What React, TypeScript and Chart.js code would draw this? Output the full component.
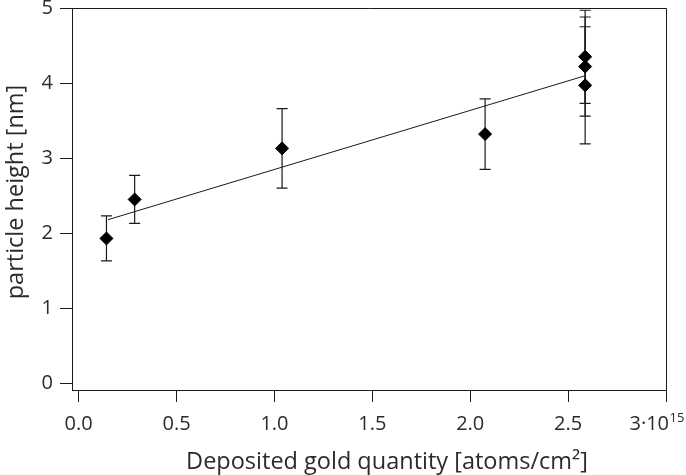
import { useEffect, useRef } from "react";
import { Chart, registerables } from "chart.js";

Chart.register(...registerables);

// Deposited gold quantity in units of 10^15 atoms/cm²
const goldQuantity = [0.142, 0.286, 1.039, 2.076, 2.587, 2.587, 2.587];
// Mean particle height [nm] and its standard deviation
const particleHeight = [1.93, 2.45, 3.13, 3.32, 4.35, 4.22, 3.97];
const heightError = [0.3, 0.32, 0.53, 0.47, 0.62, 0.66, 0.78];
// Linear fit through the measurements
const fitQuantity = [0.15, 2.59];
const fitHeight = [2.18, 4.1];

const xTickValues = [0, 0.5, 1, 1.5, 2, 2.5, 3];
const yTickValues = [0, 1, 2, 3, 4, 5];
const xTitle = "Deposited gold quantity [atoms/cm²]";
const yTitle = "particle height [nm]";
const xExponentBase = "3·10";
const xExponent = "15";

const FONT = "'Open Sans', 'DejaVu Sans', sans-serif";
const TEXT = "#2b2b2b";
const INK = "#1a1a1a";
const TICK_SIZE = 20;
const TITLE_SIZE = 23.5;

const errorBarPlugin = {
  id: "errorBars",
  beforeDatasetsDraw(chart: any) {
    const { ctx } = chart;
    const xs = chart.scales.x;
    const ys = chart.scales.y;
    ctx.save();
    ctx.strokeStyle = INK;
    ctx.lineWidth = 1.2;
    goldQuantity.forEach((q, i) => {
      const px = xs.getPixelForValue(q);
      const top = ys.getPixelForValue(particleHeight[i] + heightError[i]);
      const bot = ys.getPixelForValue(particleHeight[i] - heightError[i]);
      ctx.beginPath();
      ctx.moveTo(px, top);
      ctx.lineTo(px, bot);
      ctx.moveTo(px - 5.5, top);
      ctx.lineTo(px + 5.5, top);
      ctx.moveTo(px - 5.5, bot);
      ctx.lineTo(px + 5.5, bot);
      ctx.stroke();
    });
    ctx.restore();
  },
};

const framePlugin = {
  id: "frameAndTitles",
  afterDraw(chart: any) {
    const { ctx, chartArea } = chart;
    const xs = chart.scales.x;
    ctx.save();
    // top and right edges of the plot frame
    ctx.strokeStyle = INK;
    ctx.lineWidth = 1;
    ctx.beginPath();
    ctx.moveTo(chartArea.left, chartArea.top + 0.5);
    ctx.lineTo(chartArea.right + 0.5, chartArea.top + 0.5);
    ctx.lineTo(chartArea.right + 0.5, chartArea.bottom);
    ctx.stroke();

    // last x tick label with its exponent
    const px = xs.getPixelForValue(3);
    ctx.fillStyle = TEXT;
    ctx.textBaseline = "alphabetic";
    ctx.font = `${TICK_SIZE}px ${FONT}`;
    ctx.textAlign = "right";
    ctx.fillText(xExponentBase, px + 3, 430);
    ctx.font = `13px ${FONT}`;
    ctx.textAlign = "left";
    ctx.fillText(xExponent, px + 3.5, 422);

    // axis titles
    ctx.font = `${TITLE_SIZE}px ${FONT}`;
    ctx.textAlign = "center";
    ctx.textBaseline = "middle";
    ctx.fillText(xTitle, 387, 462);
    ctx.translate(16, 192);
    ctx.rotate(-Math.PI / 2);
    ctx.fillText(yTitle, 0, 0);
    ctx.restore();
  },
};

export default function App() {
  const canvasRef = useRef<HTMLCanvasElement | null>(null);

  useEffect(() => {
    const canvas = canvasRef.current;
    if (!canvas) return;
    const chart = new Chart(canvas, {
      type: "scatter",
      data: {
        datasets: [
          {
            type: "line",
            label: "fit",
            data: fitQuantity.map((x, i) => ({ x, y: fitHeight[i] })),
            borderColor: INK,
            borderWidth: 1,
            pointRadius: 0,
            fill: false,
          },
          {
            label: "particle height",
            data: goldQuantity.map((x, i) => ({ x, y: particleHeight[i] })),
            pointStyle: "rectRot",
            pointRadius: 6.5,
            pointBackgroundColor: "#000",
            pointBorderColor: "#000",
            pointBorderWidth: 1,
          },
        ],
      },
      plugins: [errorBarPlugin, framePlugin],
      options: {
        responsive: false,
        animation: false,
        devicePixelRatio: 1,
        layout: { padding: { top: 8, right: 20, left: 0, bottom: 0 } },
        plugins: {
          legend: { display: false },
          tooltip: { enabled: false },
        },
        scales: {
          x: {
            type: "linear",
            min: -0.034,
            max: 3,
            afterBuildTicks: (scale: any) => {
              scale.ticks = xTickValues.map((value) => ({ value }));
            },
            afterFit: (scale: any) => {
              scale.height = 85;
              scale.paddingLeft = 0;
              scale.paddingRight = 0;
            },
            grid: {
              display: true,
              drawOnChartArea: false,
              drawTicks: true,
              tickLength: 12,
              color: INK,
              lineWidth: 1,
            },
            border: { display: true, color: INK, width: 1 },
            ticks: {
              color: TEXT,
              font: { family: FONT, size: TICK_SIZE },
              padding: 10,
              maxRotation: 0,
              callback: (v: any) => (v === 3 ? "" : Number(v).toFixed(1)),
            },
          },
          y: {
            type: "linear",
            min: -0.089,
            max: 5,
            afterBuildTicks: (scale: any) => {
              scale.ticks = yTickValues.map((value) => ({ value }));
            },
            afterFit: (scale: any) => {
              scale.width = 72;
              scale.paddingTop = 0;
              scale.paddingBottom = 0;
            },
            grid: {
              display: true,
              drawOnChartArea: false,
              drawTicks: true,
              tickLength: 12,
              color: INK,
              lineWidth: 1,
            },
            border: { display: true, color: INK, width: 1 },
            ticks: {
              color: TEXT,
              font: { family: FONT, size: TICK_SIZE },
              padding: 7,
              callback: (v: any) => String(v),
            },
          },
        },
      },
    } as any);
    return () => chart.destroy();
  }, []);

  return (
    <div style={{ position: "absolute", left: 0, top: 0, width: 686, height: 475, background: "#fff" }}>
      <canvas ref={canvasRef} width={686} height={475} />
    </div>
  );
}
